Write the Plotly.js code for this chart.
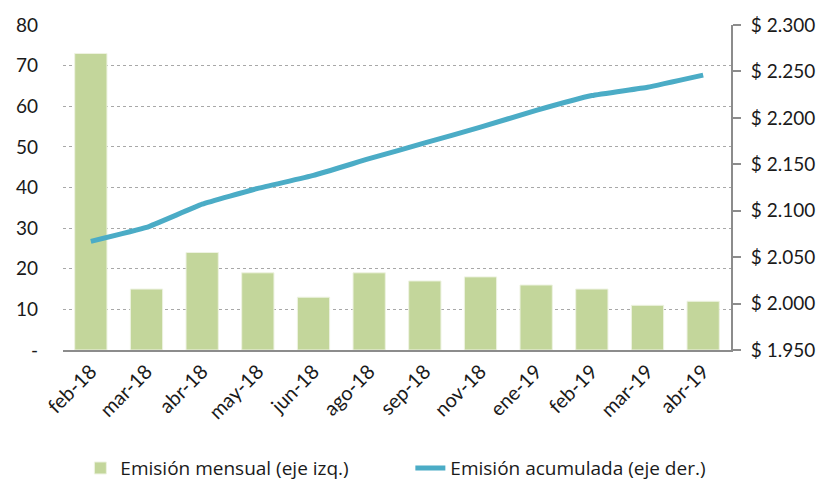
<!DOCTYPE html>
<html><head><meta charset="utf-8">
<script src="https://cdn.plot.ly/plotly-3.0.1.min.js"></script>
<style>html,body{margin:0;padding:0;background:#fff}#chart{width:827px;height:485px}</style>
</head><body><div id="chart"></div>
<script>
const categories = ["feb-18","mar-18","abr-18","may-18","jun-18","ago-18","sep-18","nov-18","ene-19","feb-19","mar-19","abr-19"];
const mensual = [73, 15, 24, 19, 13, 19, 17, 18, 16, 15, 11, 12];
const acumulada = [2067, 2082, 2107, 2124, 2138, 2156, 2173, 2190, 2208, 2224, 2233, 2246];
const leftTicks = [0,10,20,30,40,50,60,70,80];
const leftTickText = ["-","10","20","30","40","50","60","70","80"];
const rightTicks = [1950,2000,2050,2100,2150,2200,2250,2300];
const rightTickText = ["$ 1.950","$ 2.000","$ 2.050","$ 2.100","$ 2.150","$ 2.200","$ 2.250","$ 2.300"];

const fam = "Lato, 'Noto Sans', sans-serif";
const tickFont = {family: fam, size: 19, color: "#1a1a1a"};
const xFont = {family: fam, size: 20, color: "#1a1a1a"};
const legFont = {family: "'Open Sans', sans-serif", size: 19, color: "#1a1a1a"};
const data = [
  {type:"bar", x:categories, y:mensual, name:"Emisión mensual (eje izq.)",
   marker:{color:"#c3d69b", line:{color:"#eef3e2", width:1}}, yaxis:"y"},
  {type:"scatter", mode:"lines", x:categories, y:acumulada, name:"Emisión acumulada (eje der.)",
   line:{color:"#4bacc6", width:5, shape:"spline", smoothing:0.3}, yaxis:"y2"}
];
const layout = {
  width:827, height:485,
  margin:{l:63, r:96, t:25, b:135, autoexpand:false},
  paper_bgcolor:"#fff", plot_bgcolor:"#fff",
  font: tickFont,
  bargap:0.42,
  showlegend:true,
  legend:{orientation:"h", x:0.52, xanchor:"center", y:-0.305, yanchor:"top",
          font:legFont, itemwidth:30, entrywidth:285, traceorder:"normal"},
  xaxis:{type:"category", tickangle:-45, showgrid:false, showline:true, linecolor:"#8c8c8c", linewidth:2,
         ticks:"", tickfont:xFont, range:[-0.5, 11.5], fixedrange:true, automargin:false},
  yaxis:{range:[0,80], tickvals:leftTicks, ticktext:leftTickText, showgrid:true, gridcolor:"#a8a8a8",
         griddash:"dot", gridwidth:1, zeroline:false, showline:false, ticks:"", tickfont:tickFont, ticklabelstandoff:24, automargin:false},
  yaxis2:{overlaying:"y", side:"right", range:[1950,2300], tickvals:rightTicks, ticktext:rightTickText,
          showgrid:false, zeroline:false, showline:true, linecolor:"#8c8c8c", linewidth:2, automargin:false,
          ticks:"outside", ticklen:8, tickcolor:"#8c8c8c", tickwidth:2, tickfont:tickFont, ticklabelstandoff:6}
};
Plotly.newPlot("chart", data, layout, {displayModeBar:false, staticPlot:true});
</script></body></html>
